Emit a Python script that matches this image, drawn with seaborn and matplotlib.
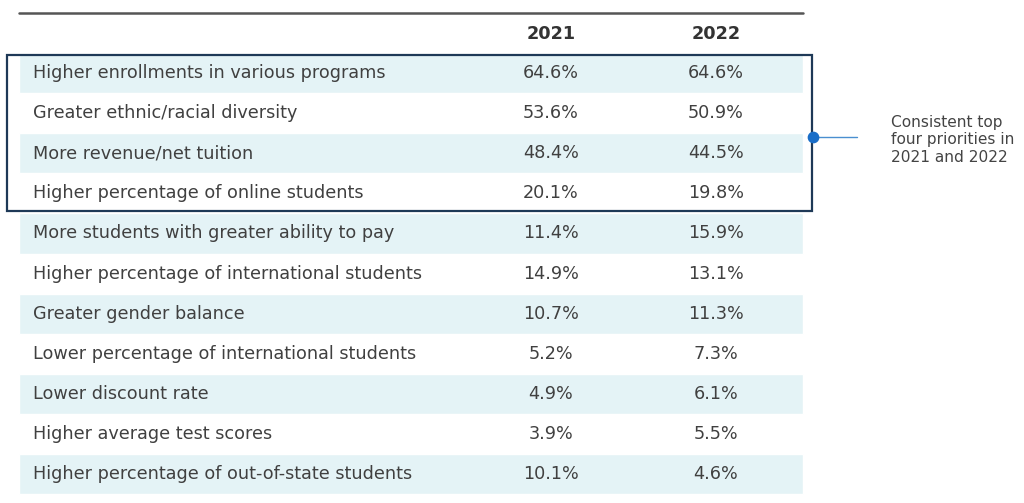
import matplotlib
matplotlib.use("Agg")
import matplotlib.pyplot as plt
import seaborn as sns
from matplotlib.patches import Rectangle

# table content
priorities = [
    "Higher enrollments in various programs",
    "Greater ethnic/racial diversity",
    "More revenue/net tuition",
    "Higher percentage of online students",
    "More students with greater ability to pay",
    "Higher percentage of international students",
    "Greater gender balance",
    "Lower percentage of international students",
    "Lower discount rate",
    "Higher average test scores",
    "Higher percentage of out-of-state students",
]
years = ["2021", "2022"]
pct_2021 = [64.6, 53.6, 48.4, 20.1, 11.4, 14.9, 10.7, 5.2, 4.9, 3.9, 10.1]
pct_2022 = [64.6, 50.9, 44.5, 19.8, 15.9, 13.1, 11.3, 7.3, 6.1, 5.5, 4.6]
top_n = 4
note = "Consistent top\nfour priorities in\n2021 and 2022"

text_color = "#404040"
stripe_color = "#e4f3f6"
box_color = "#1e3957"

sns.set_theme(style="white")
plt.rcParams["font.family"] = "sans-serif"
plt.rcParams["font.sans-serif"] = ["DejaVu Sans"]

fig = plt.figure(figsize=(10.24, 5.03), dpi=100)
ax = fig.add_axes([0, 0, 1, 1])
ax.set_xlim(0, 1024)
ax.set_ylim(10.72, -1.82)
ax.axis("off")

n = len(priorities)
rows = list(range(n))

# striped rows
stripe_rows = [r for r in rows if r % 2 == 0]
ax.barh(stripe_rows, [784] * len(stripe_rows), left=19, height=1.0,
        color=stripe_color, zorder=0)

# top rule
ax.plot([19, 803], [-1.5, -1.5], color="#555555", lw=1.8)

fs = 12.7
col_x = [551, 716]
for x, yr in zip(col_x, years):
    ax.text(x, -0.97, yr, ha="center", va="center", fontsize=fs,
            fontweight="bold", color="#333333")

for r, label, a, b in zip(rows, priorities, pct_2021, pct_2022):
    ax.text(33, r, label, ha="left", va="center", fontsize=fs, color=text_color)
    ax.text(col_x[0], r, f"{a:.1f}%", ha="center", va="center", fontsize=fs, color=text_color)
    ax.text(col_x[1], r, f"{b:.1f}%", ha="center", va="center", fontsize=fs, color=text_color)

# highlight box around the top four
ax.add_patch(Rectangle((7, -0.45), 805, top_n - 0.1, fill=False,
                       edgecolor=box_color, lw=1.6, zorder=3))

# callout
mid = (top_n - 1) / 2 + 0.1
ax.plot([813, 857], [mid, mid], color="#4a8fd0", lw=1, zorder=4)
ax.scatter([813], [mid], s=55, color="#1a6ec8", zorder=5)
ax.text(891, mid + 0.07, note, ha="left", va="center", fontsize=11.1,
        color="#444444", linespacing=1.2)

fig.savefig("out.png", dpi=100)
